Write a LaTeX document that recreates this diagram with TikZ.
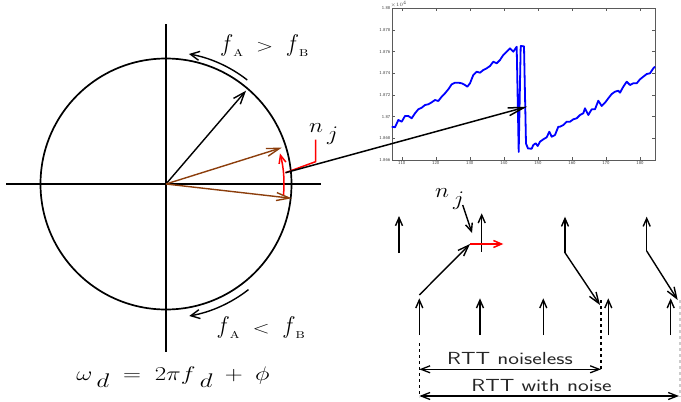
\documentclass[tikz,border=0pt]{standalone}
\usetikzlibrary{arrows.meta,calc}
\definecolor{brownvec}{RGB}{140,62,12}
\definecolor{framegray}{RGB}{90,90,90}
\newcommand\lsub[1]{\,\lower0.4em\hbox{$#1$}}
\newcommand\tallf{\mathord{\scalebox{1}[1.4]{$f$}}}
\begin{document}
\begin{tikzpicture}[x=1pt,y=-1pt]
\tikzset{
  mainline/.style={line width=1.7pt, black},
  vec/.style={line width=1.4pt, -{Straight Barb[length=12pt,width=9pt]}},
  arcarr/.style={line width=1.4pt, -{Straight Barb[length=9pt,width=9pt]}},
  brvec/.style={line width=1.4pt, brownvec, -{Straight Barb[length=13pt,width=8pt]}},
  smallarr/.style={line width=1.4pt, -{Straight Barb[length=8pt,width=7pt]}},
  diagarr/.style={line width=1.4pt, -{Straight Barb[length=11pt,width=8pt]}},
  dblarr/.style={line width=1.3pt, {Straight Barb[length=9pt,width=7pt]}-{Straight Barb[length=9pt,width=7pt]}},
  dashline/.style={line width=1.3pt, dash pattern=on 3pt off 3pt},
  mathlbl/.style={font=\huge, xscale=1.2, yscale=0.95, inner sep=0pt},
  flbl/.style={font=\LARGE, xscale=1.3, inner sep=0pt},
  njlbl/.style={font=\huge, xscale=1.15, inner sep=0pt},
  rttlbl/.style={font=\sffamily\fontsize{17.5}{20}\selectfont, xscale=1.3, inner sep=0pt, text=black!85},
  ticklbl/.style={font=\sffamily\fontsize{4.5}{5}\selectfont, inner sep=0.5pt, text=black!75},
}
\useasboundingbox (0,0) rectangle (681,402);

% ---------------- phasor circle ----------------
\coordinate (O) at (166,184);
\coordinate (hl) at (6,184);
\coordinate (hr) at (321,184);
\coordinate (vt) at (166,24);
\coordinate (vb) at (166,352);
\draw[mainline] (O) circle[radius=125.5];
\draw[mainline] (hl) -- (hr);
\draw[mainline] (vt) -- (vb);

\coordinate (vA) at (246,90.7);
\draw[vec] (O) -- (vA);
\coordinate (b1) at (281.7,147.7);
\coordinate (b2) at (291.7,198.3);
\draw[brvec] (O) -- (b1);
\draw[brvec] (O) -- (b2);

% rotation arcs
\coordinate (atop) at ($(O)+(-52:132)$);
\coordinate (abot) at ($(O)+(52:134)$);
\draw[arcarr] (atop) arc[start angle=-52, end angle=-80, radius=132];
\draw[arcarr] (abot) arc[start angle=52, end angle=80, radius=134];

% red noise arc
\coordinate (rs) at ($(O)+(5.3:118)$);
\draw[red, line width=1.5pt, -{Straight Barb[length=8pt,width=7pt]}] (rs) arc[start angle=5.3, end angle=-15, radius=118];

% bracket and pointer to the plot
\coordinate (r0) at (285.5,172.7);
\coordinate (r1) at (315.5,161.7);
\coordinate (r2) at (315.5,139.5);
\coordinate (ptip) at (527,106.7);
\draw[red, line width=1.5pt] (r0) -- (r1) -- (r2);

% labels
\node[flbl, anchor=base] (fgt) at (264.5,51) {$\tallf_{\scriptscriptstyle\mathrm{A}}\;>\;\tallf_{\scriptscriptstyle\mathrm{B}}$};
\node[flbl, anchor=base] (flt) at (261,333) {$\tallf_{\scriptscriptstyle\mathrm{A}}\;<\;\tallf_{\scriptscriptstyle\mathrm{B}}$};
\node[mathlbl, anchor=base] (omega) at (173,380) {$\omega\lsub{d}\;=\;2\pi f\lsub{d}\;+\;\phi$};
\node[njlbl, anchor=base west] (nj1) at (309,132) {$n\lsub{j}$};

% ---------------- plot ----------------
\coordinate (pbl) at (392,160);
\coordinate (ptr) at (655,8.3);
\draw[framegray, line width=0.5pt] (pbl) rectangle (ptr);
\foreach \k/\lab in {0/1.88,1/1.878,2/1.876,3/1.874,4/1.872,5/1.87,6/1.868,7/1.866}{
  \pgfmathsetmacro\yy{8.3+21.67*\k}
  \draw[framegray, line width=0.4pt] (392,\yy) -- (395,\yy);
  \draw[framegray, line width=0.4pt] (655,\yy) -- (652,\yy);
  \node[ticklbl, anchor=east] at (391,\yy) {\lab};
}
\foreach \k/\lab in {0/110,1/120,2/130,3/140,4/150,5/160,6/170,7/180}{
  \pgfmathsetmacro\xx{401.7+34.05*\k}
  \draw[framegray, line width=0.4pt] (\xx,160) -- (\xx,157);
  \draw[framegray, line width=0.4pt] (\xx,8.3) -- (\xx,11.3);
  \node[ticklbl, anchor=north] at (\xx,160.5) {\lab};
}
\node[ticklbl, anchor=south west] (mult) at (390,8) {$\scriptscriptstyle\times10^{4}$};
\draw[blue, line width=1.8pt, line join=round] plot coordinates {
(391.7,126.7) (395,127.3) (398.3,120) (401.7,121.7) (405,116) (408.3,116) (411.7,118.3) (415,113.3) (418.3,109.3) (421.7,107.7) (425,105) (428.3,104.3) (431.7,102.3) (435,100) (438.3,101) (441.7,96.7) (445,93.3) (448.3,89.3) (451.7,84.3) (455,82.7) (458.3,82.7) (461.7,83.3) (465,85) (467.3,86.7) (470,83.3) (473.3,75) (476.7,71.7) (480,72.7) (483.3,70) (486.7,68.3) (490,66) (493.3,61.7) (496.7,63.3) (500,60) (503.3,55) (506.7,51.7) (510,48.3) (513.3,51.7) (516.7,46.7) (518.7,152) (520.7,46) (524,46.3) (526,143.5) (528,148.5) (531.7,148.7) (533.3,145) (535.7,143.3) (537.7,146) (540,141.7) (543.3,139.3) (546.7,137.3) (549.3,131.7) (551.7,136.7) (555,135) (558.3,126.7) (560,126.7) (563.3,125) (566.7,121.7) (570,121.7) (573.3,119.3) (576.7,118.3) (580,115) (583.3,113.3) (585,108.3) (588.3,115) (591.7,109.3) (595,109.3) (598.3,100.7) (601.7,106) (605,102.7) (608.3,98.3) (611.7,94) (615,91.7) (618.3,90.7) (620,92.7) (623.3,86.7) (626.7,81.7) (630,85) (633.3,83.3) (636.7,83.3) (640,79.3) (643.3,76.7) (646.7,74) (650,73.3) (653.3,68.3) (655,66.7)};
\draw[line width=1.5pt, -{Straight Barb[length=16pt,width=8pt]}] (r0) -- (ptip);

% ---------------- packet timing ----------------
\coordinate (t1b) at (399,253);   \coordinate (t1t) at (399,216);
\coordinate (t2b) at (481.7,251.7); \coordinate (t2t) at (481.7,213.3);
\coordinate (t3b) at (565,252.7); \coordinate (t3t) at (565,216.7); \coordinate (t3d) at (600,305);
\coordinate (t4b) at (646.7,251); \coordinate (t4t) at (646.7,216.7); \coordinate (t4d) at (677.7,300);
\draw[smallarr] (t1b) -- (t1t);
\draw[smallarr] (t2b) -- (t2t);
\draw[smallarr] (t3b) -- (t3t);
\draw[smallarr] (t4b) -- (t4t);
\draw[diagarr] (t3b) -- (t3d);
\draw[diagarr] (t4b) -- (t4d);

\foreach \n/\x in {1/419.3,2/480,3/543.3,4/608.3,5/670.7}{
  \coordinate (u\n b) at (\x,335);
  \coordinate (u\n t) at (\x,298.3);
  \draw[smallarr] (u\n b) -- (u\n t);
}
\coordinate (j0) at (419.3,295);
\coordinate (jn) at (470,244);
\coordinate (jr) at (503.3,244);
\draw[diagarr] (j0) -- (jn);
\draw[red, line width=1.5pt, -{Straight Barb[length=8pt,width=7pt]}] (jn) -- (jr);

\node[njlbl, anchor=base west] (nj2) at (435,197) {$n\lsub{j}$};
\coordinate (nja) at (462.7,205);
\coordinate (njb) at (472,233);
\draw[smallarr] (nja) -- (njb);

\coordinate (d1t) at (419.3,343); \coordinate (d1b) at (419.3,397);
\coordinate (d2t) at (601,300);   \coordinate (d2b) at (601,370);
\coordinate (d3t) at (680,300);   \coordinate (d3b) at (680,397);
\draw[dashline] (d1t) -- (d1b);
\draw[dashline] (d2t) -- (d2b);
\draw[dashline, black!20] (d3t) -- (d3b);

\coordinate (rn1) at (419.3,369.3); \coordinate (rn2) at (601,369.3);
\coordinate (rw1) at (419.3,396);   \coordinate (rw2) at (679,396);
\draw[dblarr] (rn1) -- (rn2);
\draw[dblarr] (rw1) -- (rw2);
\node[rttlbl, anchor=base] (rttn) at (510,364) {RTT noiseless};
\node[rttlbl, anchor=base] (rttw) at (541.5,391.7) {RTT with noise};
\end{tikzpicture}
\end{document}
